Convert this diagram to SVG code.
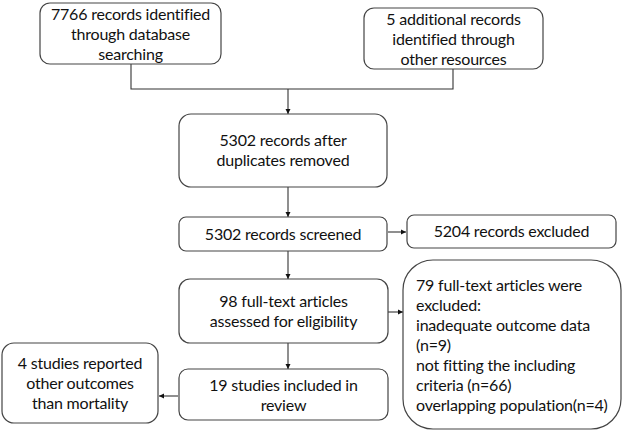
<svg xmlns="http://www.w3.org/2000/svg" width="622" height="431" viewBox="0 0 622 431">
<style>
.box{fill:#fff;stroke:#444;stroke-width:1.2}
.t{font-family:Lato,"Liberation Sans",sans-serif;font-size:16px;letter-spacing:-0.2px;fill:#111}
.c{text-anchor:middle}
.ln{fill:none;stroke:#333;stroke-width:1.1}
</style>
<defs>
<marker id="ah" markerWidth="6" markerHeight="6" refX="5" refY="3" orient="auto" markerUnits="userSpaceOnUse">
<path d="M0,0.5 L5,3 L0,5.5 Z" fill="#111"/>
</marker>
</defs>
<g id="connectors">
<polyline class="ln" points="131,64 131,89 453,89 453,69"/>
<line class="ln" x1="288" y1="89" x2="288" y2="114" marker-end="url(#ah)"/>
<line class="ln" x1="288" y1="187" x2="288" y2="217" marker-end="url(#ah)"/>
<line class="ln" x1="388" y1="232" x2="406" y2="232" marker-end="url(#ah)"/>
<line class="ln" x1="288" y1="251" x2="288" y2="279" marker-end="url(#ah)"/>
<line class="ln" x1="388" y1="312" x2="403" y2="312" marker-end="url(#ah)"/>
<line class="ln" x1="288" y1="343" x2="288" y2="369" marker-end="url(#ah)"/>
<line class="ln" x1="178" y1="396" x2="159" y2="396" marker-end="url(#ah)"/>
</g>
<g id="n1">
<rect class="box" x="40" y="3" width="181" height="61" rx="10"/>
<text class="t c" x="130.5" y="20">7766 records identified</text>
<text class="t c" x="130.5" y="40">through database</text>
<text class="t c" x="130.5" y="60">searching</text>
</g>
<g id="n2">
<rect class="box" x="364" y="8" width="179" height="61" rx="10"/>
<text class="t c" x="453.5" y="25">5 additional records</text>
<text class="t c" x="453.5" y="45">identified through</text>
<text class="t c" x="453.5" y="65">other resources</text>
</g>
<g id="n3">
<rect class="box" x="179" y="114" width="208" height="73" rx="12"/>
<text class="t c" x="283" y="146">5302 records after</text>
<text class="t c" x="283" y="166">duplicates removed</text>
</g>
<g id="n4">
<rect class="box" x="179" y="217" width="208" height="34" rx="7"/>
<text class="t c" x="283" y="240">5302 records screened</text>
</g>
<g id="n5">
<rect class="box" x="407" y="215" width="209" height="33" rx="7"/>
<text class="t c" x="511.5" y="237">5204 records excluded</text>
</g>
<g id="n6">
<rect class="box" x="179" y="279" width="209" height="64" rx="11"/>
<text class="t c" x="283.5" y="307">98 full-text articles</text>
<text class="t c" x="283.5" y="327">assessed for eligibility</text>
</g>
<g id="n7">
<rect class="box" x="403" y="260" width="218" height="169" rx="30"/>
<text class="t" x="416" y="291">79 full-text articles were</text>
<text class="t" x="416" y="311">excluded:</text>
<text class="t" x="416" y="331">inadequate outcome data</text>
<text class="t" x="416" y="351">(n=9)</text>
<text class="t" x="416" y="371">not fitting the including</text>
<text class="t" x="416" y="391">criteria (n=66)</text>
<text class="t" x="416" y="411">overlapping population(n=4)</text>
</g>
<g id="n8">
<rect class="box" x="179" y="369" width="209" height="51" rx="9"/>
<text class="t c" x="283.5" y="391">19 studies included in</text>
<text class="t c" x="283.5" y="411">review</text>
</g>
<g id="n9">
<rect class="box" x="2" y="343" width="156" height="80" rx="12"/>
<text class="t c" x="80" y="369">4 studies reported</text>
<text class="t c" x="80" y="389">other outcomes</text>
<text class="t c" x="80" y="409">than mortality</text>
</g>
</svg>
